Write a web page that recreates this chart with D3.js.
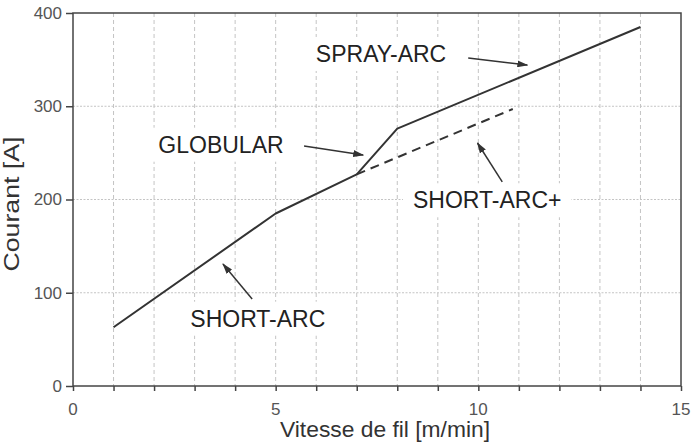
<!DOCTYPE html>
<html>
<head>
<meta charset="utf-8">
<script src="https://cdn.jsdelivr.net/npm/d3@7"></script>
<style>
  body { margin: 0; background: #fff; }
  text { font-family: 'Liberation Sans', Arial, sans-serif; }
</style>
</head>
<body>
<div class="svg"></div>
<script>
// main curve
const speed = [1, 5, 7, 8, 14]
const current = [63, 185, 227, 276, 385]
// dashed short-arc+ extension
const plusSpeed = [7, 10.85]
const plusCurrent = [227, 297]

const xTicks = [0, 5, 10, 15]
const xMinor = d3.range(0, 16)
const yTicks = [0, 100, 200, 300, 400]

// annotation text, anchor (data units) and arrow tail -> tip (data units)
const labelNames = ['SPRAY-ARC', 'GLOBULAR', 'SHORT-ARC+', 'SHORT-ARC']
const labelSpeed = [7.6, 3.65, 10.22, 4.56]
const labelCurrent = [347.5, 250.2, 190.6, 63.6]
const arrowFrom = [[9.75, 351.7], [5.7, 257.4], [10.59, 218.8], [4.42, 93.3]]
const arrowTo = [[11.21, 344.2], [7.16, 247.7], [9.98, 260.6], [3.7, 130.8]]

;(function init() {
  const width = 691
  const height = 444
  const margin = { top: 13, right: 10, bottom: 58, left: 73 }
  const ink = '#333'
  const gridColor = '#c4c4c4'

  const x = d3
    .scaleLinear()
    .domain([0, 15])
    .range([margin.left, width - margin.right])
  const y = d3
    .scaleLinear()
    .domain([0, 400])
    .range([height - margin.bottom, margin.top])

  const svg = d3
    .select('.svg')
    .append('svg')
    .attr('width', width)
    .attr('height', height)
    .attr('viewBox', [0, 0, width, height])

  svg
    .append('defs')
    .append('marker')
    .attr('id', 'arrow')
    .attr('markerUnits', 'userSpaceOnUse')
    .attr('markerWidth', 11)
    .attr('markerHeight', 7)
    .attr('refX', 10)
    .attr('refY', 3.5)
    .attr('orient', 'auto')
    .append('path')
    .attr('d', 'M0,0 L11,3.5 L0,7 Z')
    .attr('fill', ink)

  // grid
  svg
    .append('g')
    .selectAll('line')
    .data(xMinor.filter((d) => d > 0 && d < 15))
    .join('line')
    .attr('x1', (d) => x(d))
    .attr('x2', (d) => x(d))
    .attr('y1', y(400))
    .attr('y2', y(0))
    .attr('stroke', gridColor)
    .attr('stroke-width', 1)
    .attr('stroke-dasharray', '4,3')

  svg
    .append('g')
    .selectAll('line')
    .data(yTicks.filter((d) => d > 0 && d < 400))
    .join('line')
    .attr('x1', x(0))
    .attr('x2', x(15))
    .attr('y1', (d) => y(d))
    .attr('y2', (d) => y(d))
    .attr('stroke', gridColor)
    .attr('stroke-width', 1)
    .attr('stroke-dasharray', '2,1.5')

  // label boxes hide the grid behind the text
  const labels = svg.append('g')
  labelNames.forEach((name, i) => {
    const g = labels.append('g')
    const box = g.append('rect').attr('fill', '#fff')
    const t = g
      .append('text')
      .attr('x', x(labelSpeed[i]))
      .attr('y', y(labelCurrent[i]))
      .attr('text-anchor', 'middle')
      .attr('font-size', 23)
      .attr('fill', '#222')
      .text(name)
    const b = t.node().getBBox()
    box
      .attr('x', b.x - 10)
      .attr('y', b.y - 4)
      .attr('width', b.width + 20)
      .attr('height', b.height + 8)
  })

  // curves
  const line = d3
    .line()
    .x((d) => x(d[0]))
    .y((d) => y(d[1]))

  svg
    .append('path')
    .datum(d3.zip(plusSpeed, plusCurrent))
    .attr('d', line)
    .attr('fill', 'none')
    .attr('stroke', ink)
    .attr('stroke-width', 2)
    .attr('stroke-dasharray', '9,6')

  svg
    .append('path')
    .datum(d3.zip(speed, current))
    .attr('d', line)
    .attr('fill', 'none')
    .attr('stroke', ink)
    .attr('stroke-width', 2)
    .attr('stroke-linejoin', 'round')

  // arrows
  svg
    .append('g')
    .selectAll('line')
    .data(d3.zip(arrowFrom, arrowTo))
    .join('line')
    .attr('x1', (d) => x(d[0][0]))
    .attr('y1', (d) => y(d[0][1]))
    .attr('x2', (d) => x(d[1][0]))
    .attr('y2', (d) => y(d[1][1]))
    .attr('stroke', ink)
    .attr('stroke-width', 1.5)
    .attr('marker-end', 'url(#arrow)')

  // axes
  const xAxis = svg
    .append('g')
    .attr('transform', `translate(0,${y(0)})`)
    .call(d3.axisBottom(x).tickValues(xMinor).tickSize(5).tickFormat(''))
  xAxis.select('.domain').remove()
  xAxis.selectAll('line').attr('stroke', '#444').attr('stroke-width', 1.5)

  svg
    .append('g')
    .selectAll('text')
    .data(xTicks)
    .join('text')
    .attr('x', (d) => x(d))
    .attr('y', y(0) + 29)
    .attr('text-anchor', 'middle')
    .attr('font-size', 17)
    .attr('fill', '#555')
    .text((d) => d)

  const yAxis = svg
    .append('g')
    .attr('transform', `translate(${x(0)},0)`)
    .call(d3.axisLeft(y).tickValues(yTicks).tickSize(7).tickFormat(''))
  yAxis.select('.domain').remove()
  yAxis.selectAll('line').attr('stroke', '#444').attr('stroke-width', 1.5)

  svg
    .append('g')
    .selectAll('text')
    .data(yTicks)
    .join('text')
    .attr('x', x(0) - 11)
    .attr('y', (d) => y(d))
    .attr('dy', '0.35em')
    .attr('text-anchor', 'end')
    .attr('font-size', 17)
    .attr('fill', '#555')
    .text((d) => d)

  // frame
  svg
    .append('rect')
    .attr('x', x(0))
    .attr('y', y(400))
    .attr('width', x(15) - x(0))
    .attr('height', y(0) - y(400))
    .attr('fill', 'none')
    .attr('stroke', '#444')
    .attr('stroke-width', 1.5)

  // axis titles
  svg
    .append('text')
    .attr('x', 385)
    .attr('y', 436.5)
    .attr('text-anchor', 'middle')
    .attr('font-size', 22)
    .attr('fill', '#333')
    .attr('textLength', 210)
    .attr('lengthAdjust', 'spacingAndGlyphs')
    .text('Vitesse de fil [m/min]')

  svg
    .append('text')
    .attr('transform', 'translate(18.5,204) rotate(-90)')
    .attr('text-anchor', 'middle')
    .attr('font-size', 22)
    .attr('fill', '#333')
    .attr('textLength', 135)
    .attr('lengthAdjust', 'spacingAndGlyphs')
    .text('Courant [A]')
})()
</script>
</body>
</html>
